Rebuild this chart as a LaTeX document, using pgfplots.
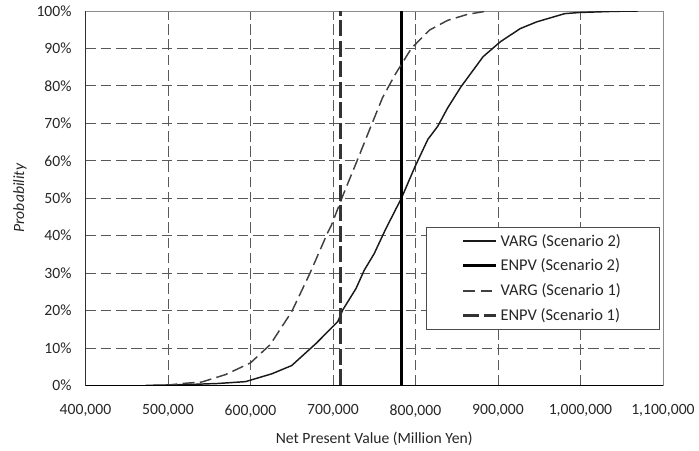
\documentclass[border=0pt]{standalone}
\usepackage{pgfplots}
\pgfplotsset{compat=1.18}
\usepackage{fontspec}
\setmainfont{Carlito}
\begin{document}
\begin{tikzpicture}
\begin{axis}[
  at={(0,0)}, anchor=south west,
  scale only axis,
  width=435.75pt, height=282.5pt,
  xmin=400000, xmax=1100000,
  ymin=0, ymax=1,
  xtick={400000,500000,600000,700000,800000,900000,1000000,1100000},
  xticklabels={{400,000},{500,000},{600,000},{700,000},{800,000},{900,000},{1,000,000},{1,100,000}},
  ytick={0,0.1,0.2,0.3,0.4,0.5,0.6,0.7,0.8,0.9,1},
  yticklabels={0\%,10\%,20\%,30\%,40\%,50\%,60\%,70\%,80\%,90\%,100\%},
  scaled x ticks=false, scaled y ticks=false,
  tick style={draw=none},
  ticklabel style={font=\fontsize{11.8}{13}\selectfont, text=black!85},
  yticklabel style={xshift=-7pt},
  xticklabel style={yshift=-11pt},
  grid=major,
  major grid style={black!65, line width=0.65pt, dash pattern=on 8pt off 3.5pt},
  axis line style={black!45, line width=0.6pt},
  xlabel={Net Present Value (Million Yen)},
  ylabel={Probability},
  xlabel style={at={(axis description cs:0.5,-0.144)}, anchor=center, font=\fontsize{11.8}{13}\selectfont, text=black!85},
  ylabel style={at={(axis description cs:-0.1136,0.5)}, anchor=center, font=\fontsize{11.8}{13}\selectfont\itshape, text=black!85},
  legend image code/.code={\draw[#1] (0pt,0pt) -- (25pt,0pt);},
  legend cell align=left,
  legend style={at={(axis description cs:0.589,0.423)}, anchor=north west,
    draw=black!70, line width=0.6pt, fill=white,
    font=\fontsize{12.4}{14}\selectfont, text=black!85,
    inner xsep=27pt, inner ysep=3pt, row sep=4.2pt},
]
% VARG Scenario 2
\addplot[black!90, line width=1.1pt] coordinates {
(473000,0) (520000,0.002) (560000,0.005) (594000,0.01) (626000,0.031) (650000,0.053)
(680000,0.113) (706000,0.171) (712000,0.202) (728000,0.259) (738000,0.308) (750000,0.352)
(764000,0.418) (783000,0.50) (799000,0.582) (815000,0.657) (827000,0.692) (839000,0.741)
(855000,0.797) (863000,0.821) (882000,0.878) (903000,0.918) (927000,0.953) (947000,0.971)
(981000,0.993) (999000,0.996) (1040000,0.999) (1070000,1.0)
};
\addlegendentry{VARG (Scenario 2)\hspace{21pt}}
% ENPV Scenario 2
\addplot[black, line width=2.3pt] coordinates {(783000,0) (783000,1)};
\addlegendentry{ENPV (Scenario 2)}
% VARG Scenario 1
\addplot[black!75, line width=1.1pt, dash pattern=on 9pt off 4pt] coordinates {
(497000,0) (517000,0.005) (541000,0.009) (570000,0.029) (600000,0.06) (624000,0.109)
(650000,0.197) (672000,0.299) (694000,0.41) (698000,0.427) (712000,0.507) (730000,0.604)
(746000,0.692) (760000,0.768) (775000,0.829) (795000,0.90) (817000,0.949) (839000,0.975)
(863000,0.991) (887000,1.0)
};
\addlegendentry{VARG (Scenario 1)}
% ENPV Scenario 1
\addplot[black!80, line width=1.9pt, dash pattern=on 12pt off 3.5pt] coordinates {(709400,0) (709400,1)};
\addlegendentry{ENPV (Scenario 1)}
\draw[black, line width=1.1pt] (rel axis cs:0,1) -- (rel axis cs:0,0) -- (rel axis cs:1,0);
\end{axis}
\path[use as bounding box] (-64.5pt,-47.5pt) rectangle (459.75pt,290.8pt);
\end{tikzpicture}
\end{document}
